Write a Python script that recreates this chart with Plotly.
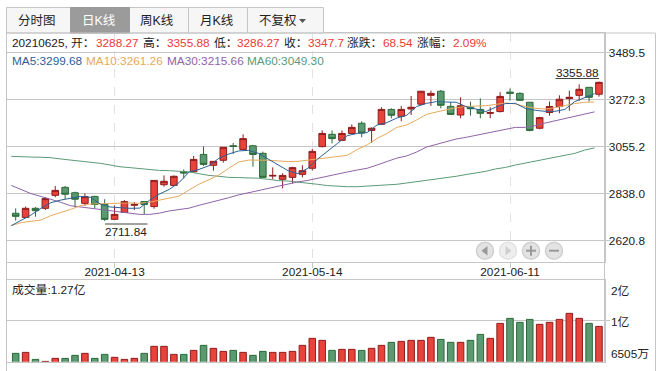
import plotly.graph_objects as go
from plotly.subplots import make_subplots

W, H = 660, 371
opens = [2747,2728,2770,2770,2830,2867,2842,2793,2825,2788,2719,2751,2784,2801,2778,2879,2876,2939,2939,3019,
         2969,2992,3059,3042,3059,3024,2919,2904,2913,2927,2955,3055,3112,3084,3116,3163,3130,3158,3227,3195,
         3229,3251,3292,3311,3241,3201,3237,3227,3209,3217,3307,3301,3260,3140,3213,3240,3277,3292,3329,3297]
closes = [2733,2770,2759,2815,2853,2835,2812,2824,2788,2719,2742,2801,2788,2788,2899,2895,2918,2933,2996,2973,
          2987,3052,3056,3092,3019,2913,2922,2922,2958,2944,3033,3116,3092,3116,3144,3118,3140,3227,3200,3227,
          3237,3311,3301,3246,3204,3244,3230,3209,3212,3287,3301,3269,3130,3189,3240,3274,3283,3320,3283,3352]
highs = [2770,2778,2776,2821,2873,2873,2847,2839,2828,2812,2784,2808,2799,2801,2899,2922,2922,2950,3012,3056,
         2987,3052,3072,3112,3063,3032,2959,2932,2962,2969,3044,3130,3130,3130,3158,3172,3144,3237,3232,3243,
         3289,3311,3314,3317,3260,3283,3263,3278,3237,3307,3324,3306,3260,3193,3263,3292,3314,3343,3329,3355.88]
lows = [2713,2728,2731,2762,2821,2812,2775,2781,2770,2711.84,2719,2750,2762,2744,2768,2870,2873,2909,2935,2966,
        2944,2981,3021,3039,2962,2913,2904,2862,2885,2913,2944,3052,3070,3081,3113,3098,3073,3155,3186,3172,
        3201,3246,3243,3232,3201,3186,3198,3186,3186,3213,3267,3267,3126,3135,3198,3209,3221,3267,3263,3286]
ma5 = [2690,2716,2739,2770,2796,2808,2815,2825,2821,2790,2776,2773,2770,2771,2808,2836,2858,2890,2938,2950,
       2967,3001,3021,3035,3038,3024,2996,2970,2944,2930,2955,2998,3032,3070,3106,3116,3120,3155,3166,3187,
       3200,3240,3255,3263,3261,3260,3240,3227,3217,3237,3254,3255,3232,3223,3218,3218,3227,3263,3281,3299.68]
ma10 = [2690,2704,2710,2716,2736,2750,2765,2782,2790,2791,2793,2795,2795,2793,2798,2808,2818,2827,2855,2882,
        2902,2924,2955,2984,2993,2993,2992,2989,2986,2987,2992,2998,3002,3007,3015,3042,3063,3093,3116,3144,
        3155,3178,3204,3215,3226,3235,3241,3241,3244,3250,3257,3252,3240,3232,3229,3235,3246,3254,3260,3261.26]
ma30 = [2876,2856,2838,2825,2812,2798,2782,2776,2770,2764,2758,2751,2747,2742,2742,2748,2758,2765,2771,2784,
        2795,2807,2819,2832,2842,2852,2862,2873,2882,2892,2899,2909,2921,2930,2938,2947,2955,2970,2986,3002,
        3012,3030,3053,3066,3078,3090,3098,3107,3115,3124,3135,3144,3144,3152,3164,3175,3186,3197,3207,3215.66]
ma60 = [3010,3010,3007,3006,3004,2998,2993,2990,2986,2978,2970,2962,2958,2953,2949,2945,2944,2942,2938,2930,
        2922,2918,2913,2912,2912,2909,2904,2898,2896,2892,2887,2881,2875,2872,2870,2870,2872,2875,2876,2881,
        2887,2893,2899,2905,2910,2918,2926,2933,2941,2952,2959,2970,2979,2986,2998,3007,3015,3024,3039,3049.30]
volumes = [.797,.814,.691,.656,.709,.709,.762,.797,.709,.779,.727,.691,.709,.797,.920,.920,.779,.779,.849,.937,
           .885,.832,.849,.814,.762,.832,.814,.814,.832,.937,1.060,1.025,.849,.867,.867,.849,.885,.937,.990,1.007,
           1.025,1.025,1.078,1.042,.990,.990,1.025,1.130,1.060,1.323,1.411,1.341,1.393,1.306,1.341,1.393,1.499,1.411,1.323,1.27]
price_ticks = [3489.5, 3272.3, 3055.2, 2838.0, 2620.8]
price_tick_text = ["3489.5", "3272.3", "3055.2", "2838.0", "2620.8"]
date_tick_idx = [10, 30, 50]
date_tick_text = ["2021-04-13", "2021-05-14", "2021-06-11"]

RED, RED_D = "#e8433a", "#8f1c1c"
GRN, GRN_D = "#5b9a70", "#2b6a38"
GRID = "#c6c6c6"
TXT = "#222222"
C_RED = "#ee3b36"
C5, C10, C30, C60 = "#2b6296", "#e6a95c", "#8f63a8", "#5a9a78"
FONT = "Liberation Sans, Noto Sans CJK SC, sans-serif"

def X(p): return p / W
def Y(p): return 1 - p / H

L, R = 6.5, 604.5
idx = list(range(len(opens)))
ma_x = [i - 0.45 for i in idx]

fig = make_subplots(rows=2, cols=1)
fig.add_trace(go.Candlestick(x=idx, open=opens, high=highs, low=lows, close=closes, whiskerwidth=0,
    increasing=dict(fillcolor=RED, line=dict(color=RED_D, width=1)),
    decreasing=dict(fillcolor=GRN, line=dict(color=GRN_D, width=1)), hoverinfo="skip"), row=1, col=1)
for vals, c in [(ma60, C60), (ma30, C30), (ma10, C10), (ma5, C5)]:
    fig.add_trace(go.Scatter(x=ma_x, y=vals, mode="lines", line=dict(color=c, width=1), hoverinfo="skip"), row=1, col=1)
fig.add_trace(go.Bar(x=idx, y=volumes, width=0.66,
    marker=dict(color=[RED if c >= o else GRN for o, c in zip(opens, closes)],
                line=dict(color=[RED_D if c >= o else GRN_D for o, c in zip(opens, closes)], width=1)),
    hoverinfo="skip"), row=2, col=1)

xrange = [(L - 15.7) / 9.886, (R - 15.7) / 9.886]
common = dict(range=xrange, showline=True, linecolor=GRID, linewidth=1, mirror=True, zeroline=False)

shapes, ann = [], []
def line(x0, y0, x1, y1, color=GRID, width=1):
    shapes.append(dict(type="line", xref="paper", yref="paper", x0=X(x0), y0=Y(y0), x1=X(x1), y1=Y(y1),
                       line=dict(color=color, width=width)))
def rect(x0, y0, x1, y1, fill, color=GRID):
    shapes.append(dict(type="rect", xref="paper", yref="paper", x0=X(x0), y0=Y(y0), x1=X(x1), y1=Y(y1),
                       fillcolor=fill, line=dict(color=color, width=1)))
def text(s, x, y, color=TXT, anchor="left", size=11.8):
    ann.append(dict(text=s, x=X(x), y=Y(y), xref="paper", yref="paper", showarrow=False, xanchor=anchor,
                    yanchor="middle", borderpad=0, font=dict(family=FONT, size=size, color=color)))

# tabs
rect(L, 7.5, 323.5, 33, "#f6f6f6")
rect(70.5, 7.5, 129.5, 33, "#9b9b9b", "#9b9b9b")
for d in (188.5, 247.5):
    line(d, 7.5, d, 33)
for s, cx, c in [("分时图", 37, TXT), ("日K线", 99, "#ffffff"), ("周K线", 157, TXT), ("月K线", 217, TXT), ("不复权", 278, TXT)]:
    text(s, cx, 20.5, c, "center", 12.5)
shapes.append(dict(type="path", xref="paper", yref="paper", fillcolor="#555555", line=dict(width=0),
                   path=f"M {X(299)} {Y(19)} L {X(306)} {Y(19)} L {X(302.5)} {Y(23)} Z"))

# frame
line(L, 33, 655.5, 33)
line(L, 33, L, 371)
line(R, 33, R, 362)
line(655.5, 33, 655.5, 371)

# header rows
for s, x, c in [("20210625, 开：", 11, TXT), ("3288.27", 94.7, C_RED), ("高：", 141.7, TXT), ("3355.88", 165.7, C_RED),
                ("低：", 212.7, TXT), ("3286.27", 236, C_RED), ("收：", 283.3, TXT), ("3347.7", 306.5, C_RED),
                ("涨跌：", 346, TXT), ("68.54", 381.5, C_RED), ("涨幅：", 416, TXT), ("2.09%", 451.5, C_RED)]:
    text(s, x, 43.5, c)
for s, x, c in [("MA5:3299.68", 11, C5), ("MA10:3261.26", 85, C10), ("MA30:3215.66", 165.7, C30), ("MA60:3049.30", 246, C60)]:
    text(s, x, 61.5, c)

# extreme labels
text("3355.88", 577, 72.5, TXT, "center")
line(555.5, 78.5, 599, 78.5, "#444444")
text("2711.84", 126, 231.5, TXT, "center")
line(105, 224, 147.5, 224, "#444444")

# volume labels
text("成交量:1.27亿", 11, 290)
text("2亿", 610, 291)
text("1亿", 610, 322)
text("6505万", 610, 353.5)

# nav buttons
for i, cx in enumerate((485, 508, 531, 554)):
    shapes.append(dict(type="circle", xref="paper", yref="paper", x0=X(cx - 8.5), x1=X(cx + 8.5), y0=Y(250.7 - 8.5), y1=Y(250.7 + 8.5),
                       fillcolor="#e3e3e3" if i != 1 else "#eeeeee", line=dict(color="#cfcfcf" if i != 1 else "#e2e2e2", width=1.5)))
g = "#9a9a9a"
shapes.append(dict(type="path", xref="paper", yref="paper", fillcolor=g, line=dict(width=0),
                   path=f"M {X(487.5)} {Y(246)} L {X(487.5)} {Y(255.5)} L {X(481.5)} {Y(250.7)} Z"))
shapes.append(dict(type="path", xref="paper", yref="paper", fillcolor="#cfcfcf", line=dict(width=0),
                   path=f"M {X(505.5)} {Y(246)} L {X(505.5)} {Y(255.5)} L {X(511.5)} {Y(250.7)} Z"))
line(526, 250.7, 536, 250.7, g, 2)
line(531, 245.7, 531, 255.7, g, 2)
line(549, 250.7, 559, 250.7, g, 2)

fig.update_layout(
    width=W, height=H, autosize=False, margin=dict(l=0, r=0, t=0, b=0), showlegend=False,
    paper_bgcolor="white", plot_bgcolor="white", boxgap=0.05, bargap=0.3, shapes=shapes, annotations=ann,
    font=dict(family=FONT, size=12, color=TXT),
    xaxis=dict(common, domain=[X(L), X(R)], rangeslider=dict(visible=False), tickmode="array", tickvals=date_tick_idx,
               ticktext=date_tick_text, ticks="outside", ticklen=5, tickcolor=GRID, showgrid=True, gridcolor="#e2e2e2",
               griddash="dash", gridwidth=1, ticklabelstandoff=-6, tickfont=dict(size=11.8, color=TXT)),
    yaxis=dict(domain=[Y(261.7), Y(33)], range=[2523.4, 3580], side="right", tickmode="array", tickvals=price_ticks,
               ticktext=price_tick_text, ticks="outside", ticklen=4, tickcolor=GRID, showgrid=True, gridcolor=GRID,
               showline=True, linecolor=GRID, zeroline=False, tickfont=dict(size=11.8, color=TXT), ticklabelstandoff=-3),
    xaxis2=dict(common, domain=[X(L), X(R)], showticklabels=False, showgrid=False, ticks=""),
    yaxis2=dict(domain=[Y(361.7), Y(280.3)], range=[0.6505, 2.079], side="right", tickmode="array", tickvals=[1.377],
                showticklabels=False, ticks="outside", ticklen=4, tickcolor=GRID, showgrid=True, gridcolor=GRID,
                showline=True, linecolor=GRID, zeroline=False),
)
fig.write_html("out.html", config=dict(displayModeBar=False),
               post_script="document.body.style.margin='0';document.body.style.overflow='hidden';")
